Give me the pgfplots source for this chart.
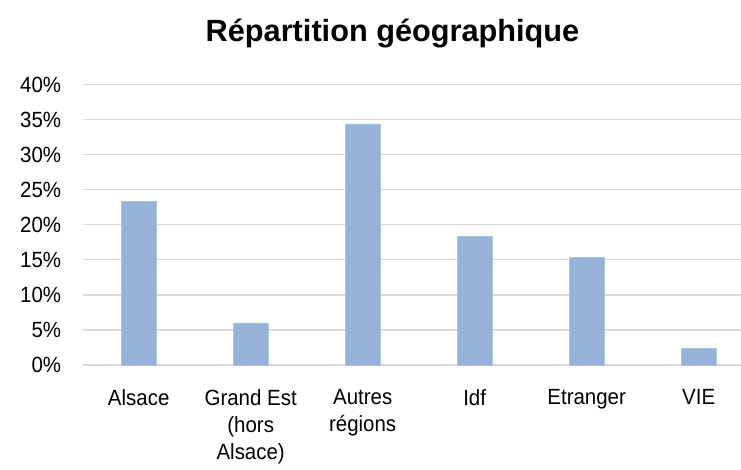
\documentclass[border=0pt]{standalone}
\usepackage{pgfplots}
\pgfplotsset{compat=1.18}
\usepackage{fontspec}
\setmainfont{Liberation Sans}
\newfontfamily\tickfont[FakeStretch=0.93]{Liberation Sans}
\definecolor{barblue}{HTML}{95B3D7}
\definecolor{gridgray}{HTML}{D9D9D9}
\begin{document}
\begin{tikzpicture}[x=1pt,y=1pt]
\path[use as bounding box] (0,0) rectangle (741,470);
\node[font=\fontsize{30.7}{36}\selectfont\bfseries, anchor=base] at (392.5,428.3) {Répartition géographique};
\begin{axis}[
  at={(82.7pt,105pt)}, anchor=south west,
  scale only axis, width=658.3pt, height=280.3pt,
  xmin=-0.5, xmax=5.378, ymin=0, ymax=40,
  axis line style={draw=none},
  ytick={0,5,...,40},
  yticklabel={\pgfmathprintnumber{\tick}\%},
  /pgf/number format/assume math mode=true,
  ymajorgrids, grid style={gridgray, line width=1.2pt},
  major tick length=0pt,
  xtick={0,1,2,3,4,5},
  xticklabels={Alsace, Grand Est\\(hors\\Alsace), Autres\\régions, Idf, Etranger, VIE},
  ticklabel style={font=\tickfont\fontsize{22}{27}\selectfont},
  xticklabel style={align=center, anchor=north, yshift=-21pt},
  yticklabel style={anchor=east, xshift=-18pt},
  clip=false,
]
\addplot[ybar, bar width=35pt, fill=barblue, draw=barblue!80!white, line width=0.6pt] coordinates {
  (0,23.3) (1,6.0) (2,34.4) (3,18.4) (4,15.4) (5,2.4)
};
\end{axis}
\end{tikzpicture}
\end{document}
